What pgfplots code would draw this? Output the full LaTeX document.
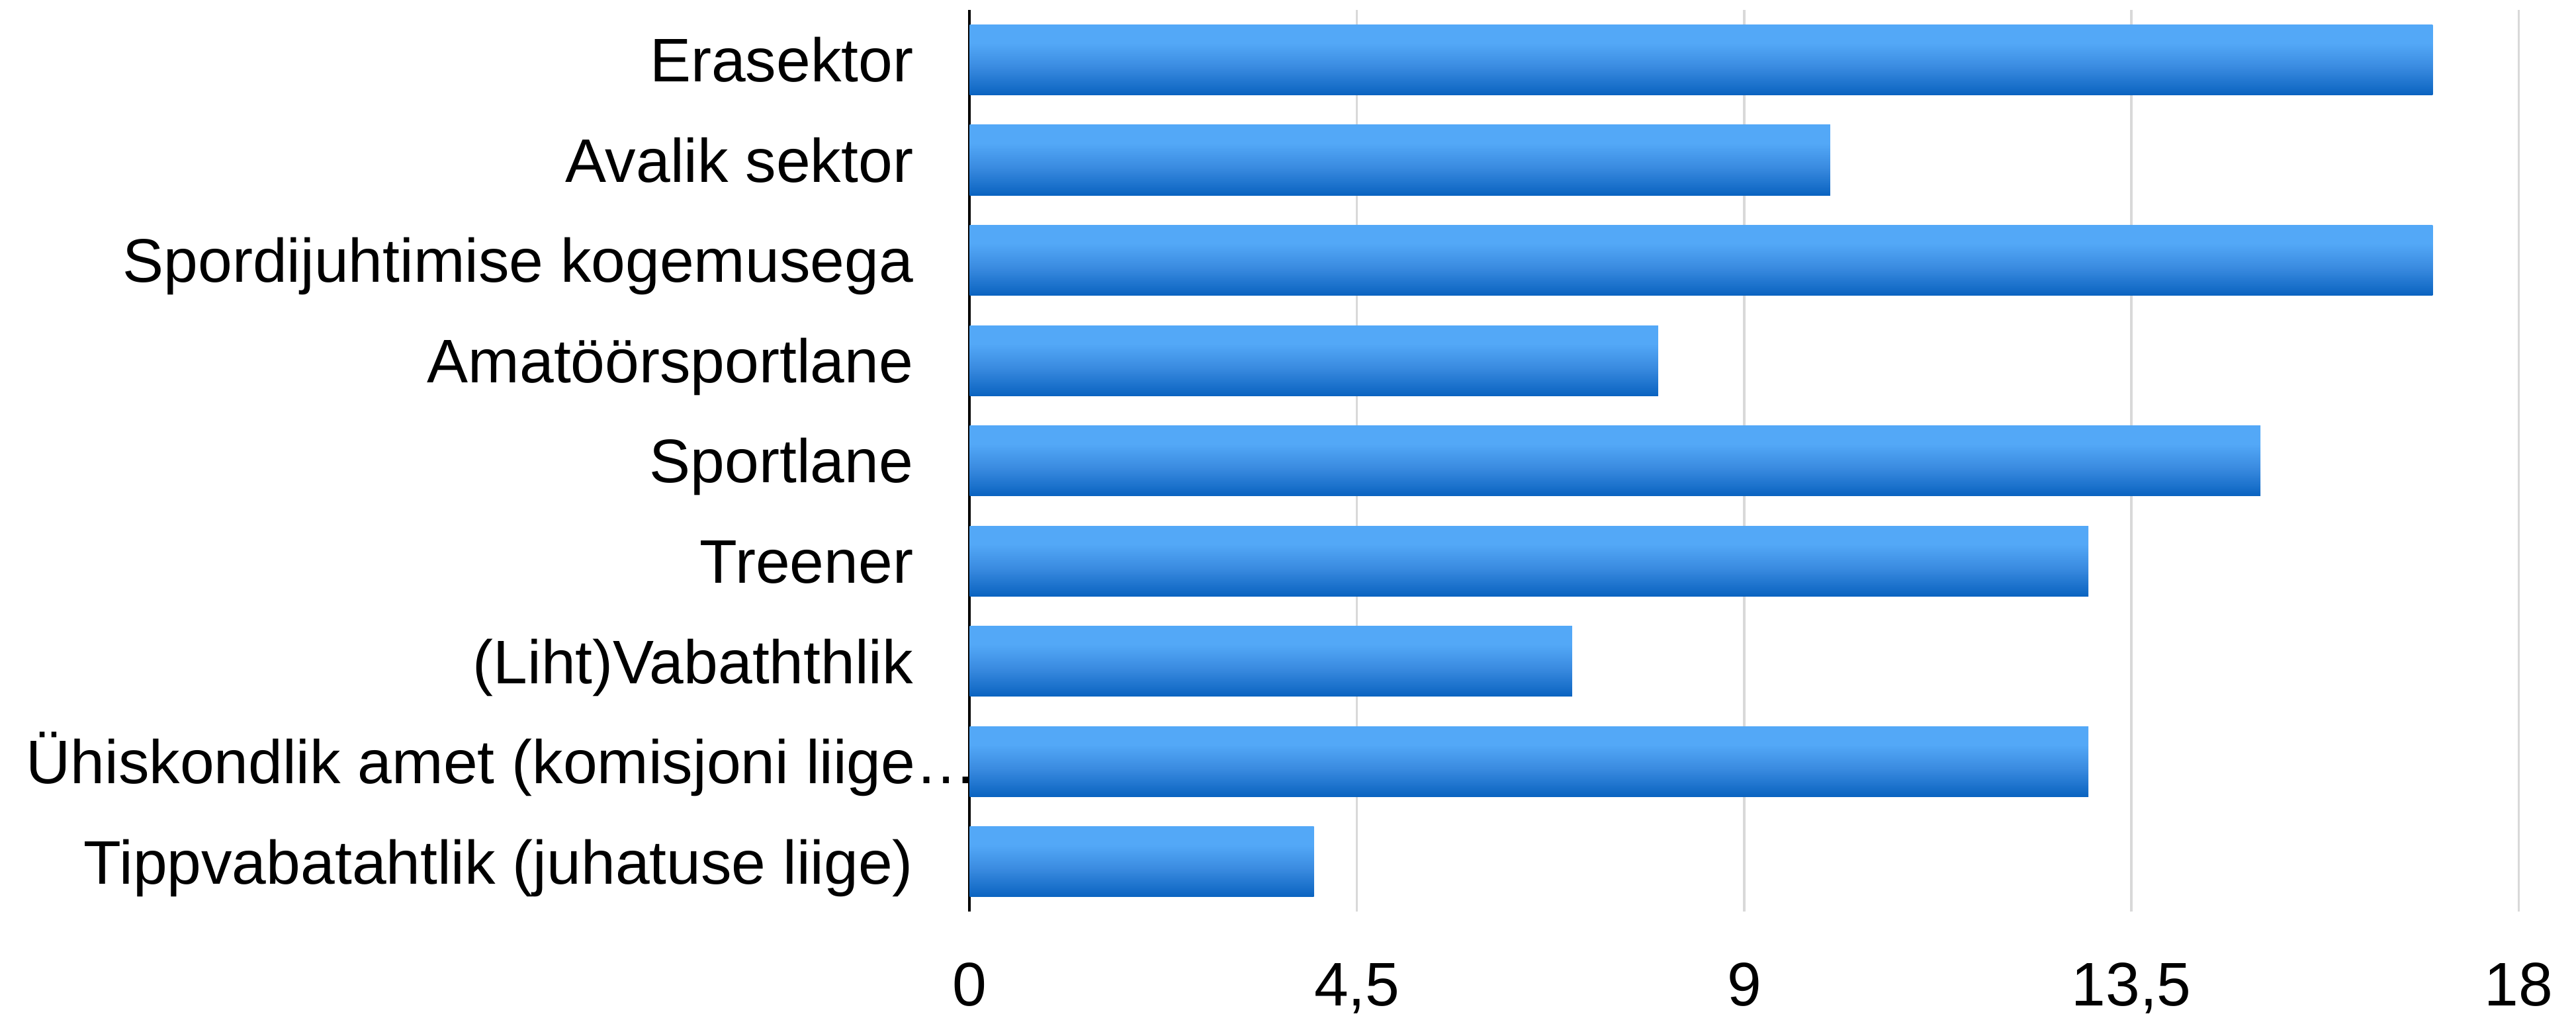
\documentclass[border=0pt]{standalone}
\usepackage{fontspec}
\setmainfont{Liberation Sans}
\usepackage{pgfplots}
\pgfplotsset{compat=1.18}
\definecolor{barTop}{HTML}{53A8F7}
\definecolor{barMid}{HTML}{3A8BE0}
\definecolor{barBot}{HTML}{0A63C0}
\definecolor{gridc}{HTML}{D9D9D9}
\pgfdeclareverticalshading{barshade}{100bp}{color(0bp)=(barBot); color(25bp)=(barBot); color(45bp)=(barMid); color(62bp)=(barTop); color(75bp)=(barTop); color(100bp)=(barTop)}
\begin{document}
\begin{tikzpicture}
\useasboundingbox (-219.75pt,-24.5pt) rectangle (364pt,206.7pt);
\begin{axis}[
  at={(0,0)}, anchor=south west,
  scale only axis,
  width=351pt, height=204.5pt,
  xmin=0, xmax=18,
  ymin=-0.5, ymax=8.5,
  xtick={0,4.5,9,13.5,18},
  xticklabels={0,{4,5},9,{13,5},18},
  ytick={0,1,2,3,4,5,6,7,8},
  yticklabels={
    Tippvabatahtlik (juhatuse liige),
    {Ühiskondlik amet (komisjoni liige…\kern-14.5pt},
    (Liht)Vabaththlik,
    Treener,
    Sportlane,
    Amatöörsportlane,
    Spordijuhtimise kogemusega,
    Avalik sektor,
    Erasektor},
  major tick length=0pt,
  xmajorgrids, grid style={gridc, line width=0.5pt},
  axis lines*=left,
  x axis line style={draw=none},
  y axis line style={black, line width=0.6pt, -},
  xticklabel style={font=\fontsize{13.95}{16}\selectfont, anchor=base, yshift=-21.3pt, inner sep=0pt},
  yticklabel style={font=\fontsize{13.95}{16}\selectfont, anchor=base east, xshift=-12.6pt, yshift=-5pt, inner sep=0pt},
  /pgf/number format/assume math mode=true,
  clip=false,
  no markers,
  every axis plot/.append style={xbar, bar width=0.7, bar shift=0pt, draw=none, shading=barshade},
]
\addplot coordinates {(4,0)};
\addplot coordinates {(13,1)};
\addplot coordinates {(7,2)};
\addplot coordinates {(13,3)};
\addplot coordinates {(15,4)};
\addplot coordinates {(8,5)};
\addplot coordinates {(17,6)};
\addplot coordinates {(10,7)};
\addplot coordinates {(17,8)};
\end{axis}
\end{tikzpicture}
\end{document}
